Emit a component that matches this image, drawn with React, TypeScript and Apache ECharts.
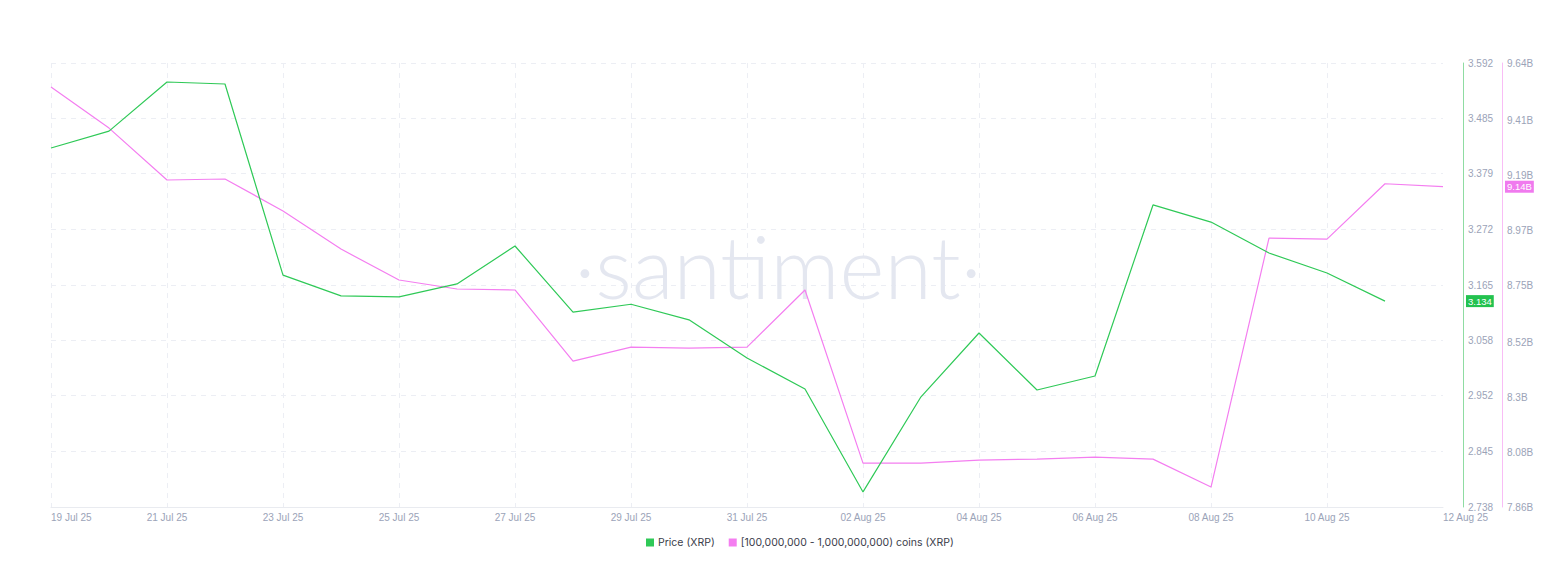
import React, { useEffect, useRef } from "react";
import * as echarts from "echarts";

const dates = [
  "19 Jul 25", "20 Jul 25", "21 Jul 25", "22 Jul 25", "23 Jul 25", "24 Jul 25", "25 Jul 25",
  "26 Jul 25", "27 Jul 25", "28 Jul 25", "29 Jul 25", "30 Jul 25", "31 Jul 25", "01 Aug 25",
  "02 Aug 25", "03 Aug 25", "04 Aug 25", "05 Aug 25", "06 Aug 25", "07 Aug 25", "08 Aug 25",
  "09 Aug 25", "10 Aug 25", "11 Aug 25", "12 Aug 25",
];

const price = [
  3.4285, 3.461, 3.5555, 3.5516, 3.184, 3.144, 3.142, 3.167, 3.24, 3.113, 3.128, 3.098,
  3.0246, 2.965, 2.767, 2.95, 3.0727, 2.963, 2.99, 3.319, 3.286, 3.2265, 3.188, 3.134,
];

const holdingsB = [
  9.544, 9.379, 9.171, 9.175, 9.047, 8.894, 8.77, 8.734, 8.73, 8.445, 8.501, 8.497, 8.501,
  8.73, 8.036, 8.036, 8.048, 8.052, 8.06, 8.052, 7.94, 8.938, 8.934, 9.156, 9.144,
];

const priceTicks = [2.738, 2.845, 2.952, 3.058, 3.165, 3.272, 3.379, 3.485, 3.592];
const holdTicksB = [7.86, 8.08, 8.3, 8.52, 8.75, 8.97, 9.19, 9.41, 9.64];

const GREEN = "#2fc957";
const PINK = "#f47ef0";

export default function App() {
  const ref = useRef<HTMLDivElement>(null);
  useEffect(() => {
    if (!ref.current) return;
    const chart = echarts.init(ref.current, null, { renderer: "svg" });
    const holdings = holdingsB.map((v) => v * 1e9);
    const labelStyle = { color: "#9ba3b8", fontSize: 10, fontFamily: "Liberation Sans, Arial, sans-serif" };
    const last = dates.length - 1;
    chart.setOption({
      animation: false,
      backgroundColor: "#ffffff",
      grid: { left: 51, right: 113, top: 63, bottom: 81, containLabel: false },
      legend: {
        bottom: 35,
        left: 641,
        icon: "rect",
        itemWidth: 8,
        itemHeight: 8,
        itemGap: 14,
        textStyle: { color: "#3b3d4a", fontSize: 10.5, fontFamily: "Inter, sans-serif", padding: [0, 0, 0, -1] },
        data: ["Price (XRP)", "[100,000,000 - 1,000,000,000) coins (XRP)"],
      },
      xAxis: {
        type: "category",
        data: dates,
        boundaryGap: false,
        axisLine: { show: true, lineStyle: { color: "#e9ebf0" } },
        axisTick: { show: false },
        axisLabel: {
          ...labelStyle,
          interval: 1,
          margin: 5,
          alignMinLabel: "left",
          alignMaxLabel: "left",
          showMaxLabel: true,
        },
        splitLine: {
          show: true,
          interval: (i: number) => i % 2 === 0 && i < last,
          lineStyle: { color: "#eceef4", type: [5, 5], width: 1 },
        },
      },
      yAxis: [
        {
          type: "value",
          position: "right",
          offset: 20,
          min: 2.738,
          max: 3.592,
          axisLine: { show: true, lineStyle: { color: "#8fdca2", width: 1 } },
          axisTick: { show: false, customValues: priceTicks },
          axisLabel: {
            ...labelStyle,
            customValues: priceTicks,
            margin: 5,
            formatter: (v: number) => v.toFixed(3),
          },
          splitLine: { show: true, lineStyle: { color: "#eceef4", type: [5, 5], width: 1 } },
        },
        {
          type: "value",
          position: "right",
          offset: 59,
          min: 7.86e9,
          max: 9.64e9,
          axisLine: { show: true, lineStyle: { color: "#f9bdf6", width: 1 } },
          axisTick: { show: false, customValues: holdTicksB.map((v) => v * 1e9) },
          axisLabel: {
            ...labelStyle,
            customValues: holdTicksB.map((v) => v * 1e9),
            margin: 5,
            formatter: (v: number) => String(parseFloat((v / 1e9).toFixed(2))) + "B",
          },
          splitLine: { show: false },
        },
      ],
      series: [
        {
          name: "Price (XRP)",
          type: "line",
          yAxisIndex: 0,
          data: price,
          symbol: "none",
          lineStyle: { color: GREEN, width: 1.2 },
          itemStyle: { color: GREEN },
          z: 3,
        },
        {
          name: "[100,000,000 - 1,000,000,000) coins (XRP)",
          type: "line",
          yAxisIndex: 1,
          data: holdings,
          symbol: "none",
          lineStyle: { color: PINK, width: 1.2 },
          itemStyle: { color: PINK },
          z: 2,
        },
      ],
    });

    const lastPrice = price[price.length - 1];
    const lastHold = holdings[holdings.length - 1];
    const yP = chart.convertToPixel({ yAxisIndex: 0 }, lastPrice) as number;
    const yH = chart.convertToPixel({ yAxisIndex: 1 }, lastHold) as number;
    const badgeFont = { fontSize: 9.5, fontFamily: "Liberation Sans, Arial, sans-serif" };
    chart.setOption({
      graphic: [
        {
          type: "text",
          left: "center",
          top: 222,
          z: 0,
          silent: true,
          style: {
            text: "·santiment·",
            fontSize: 86,
            fontWeight: 300,
            fontFamily: "Lato, 'Open Sans', sans-serif",
            fill: "#e4e7f0",
          },
        },
        {
          type: "text",
          x: 1466,
          y: yP,
          z: 10,
          style: {
            text: lastPrice.toFixed(3),
            ...badgeFont,
            fill: "#ffffff",
            backgroundColor: "#23c24f",
            padding: [1, 2, 1, 2],
            verticalAlign: "middle",
          },
        },
        {
          type: "text",
          x: 1505,
          y: yH,
          z: 10,
          style: {
            text: (lastHold / 1e9).toFixed(2) + "B",
            ...badgeFont,
            fill: "#ffffff",
            backgroundColor: "#f07aee",
            padding: [1, 2, 1, 2],
            verticalAlign: "middle",
          },
        },
      ],
    });
    return () => chart.dispose();
  }, []);
  return (
    <div
      ref={ref}
      style={{ position: "fixed", left: 0, top: 0, width: 1556, height: 588, background: "#fff" }}
    />
  );
}
